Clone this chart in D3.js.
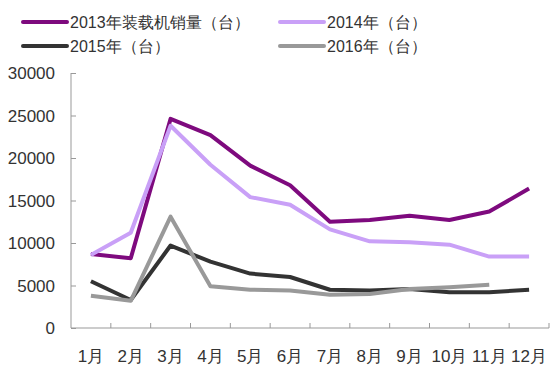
<!DOCTYPE html>
<html><head><meta charset="utf-8">
<script src="https://cdn.jsdelivr.net/npm/d3@7"></script>
<style>body{margin:0;background:#fff}svg{display:block}text{font-family:"Liberation Sans",Arial,sans-serif;fill:#333}</style>
</head><body><svg id="c" width="557" height="380"></svg>
<script>
const months = ["1月","2月","3月","4月","5月","6月","7月","8月","9月","10月","11月","12月"];
const yTicks = [0,5000,10000,15000,20000,25000,30000];
const seriesNames = ["2013年装载机销量（台）","2014年（台）","2015年（台）","2016年（台）"];
const seriesColors = ["#7e0a7e","#c9a0f7","#333333","#999999"];
const v2013 = [8700,8200,24600,22700,19100,16800,12500,12700,13200,12700,13700,16400];
const v2014 = [8600,11200,23800,19200,15400,14500,11600,10200,10100,9800,8400,8400];
const v2015 = [5500,3300,9700,7800,6400,6000,4500,4400,4600,4200,4200,4500];
const v2016 = [3800,3200,13100,4900,4500,4400,3900,4000,4600,4800,5100];
const seriesValues = [v2013,v2014,v2015,v2016];

const svg = d3.select("#c");
const x = d3.scaleBand().domain(months).range([71,549]);
const y = d3.scaleLinear().domain([0,30000]).range([328,73]);

// y axis
const ya = svg.append("g").attr("transform","translate(71,0)")
  .call(d3.axisLeft(y).tickValues(yTicks).tickSize(-5).tickPadding(16).tickFormat(d3.format("d")));
ya.select(".domain").attr("stroke","#999").attr("d","M0,73V328");
ya.selectAll(".tick line").attr("stroke","#999");
ya.selectAll(".tick text").attr("font-size",17).style("fill","#333").attr("dy","0.35em");

// x axis
const xa = svg.append("g").attr("transform","translate(0,328)");
xa.append("line").attr("x1",71).attr("x2",549).attr("stroke","#999");
const bounds = months.map(m=>x(m)).concat([x.range()[1]]);
xa.selectAll(".xt").data(bounds.slice(1)).join("line")
  .attr("x1",d=>d).attr("x2",d=>d).attr("y1",0).attr("y2",-5).attr("stroke","#999");
xa.selectAll(".xl").data(months).join("text")
  .attr("x",d=>x(d)+x.bandwidth()/2).attr("y",34).attr("text-anchor","middle")
  .attr("font-size",17).text(d=>d);

// lines
const line = d3.line().x((d,i)=>x(months[i])+x.bandwidth()/2).y(d=>y(d));
seriesValues.forEach((vals,k)=>{
  svg.append("path").datum(vals).attr("d",line).attr("fill","none")
    .attr("stroke",seriesColors[k]).attr("stroke-width",4).attr("stroke-linejoin","round");
});

// legend
const legPos = [[23,22],[280,22],[23,46],[280,46]];
seriesNames.forEach((n,k)=>{
  const [lx,ly] = legPos[k];
  svg.append("line").attr("x1",lx).attr("x2",lx+44).attr("y1",ly).attr("y2",ly)
    .attr("stroke",seriesColors[k]).attr("stroke-width",4).attr("stroke-linecap","round");
  svg.append("text").attr("x",lx+47).attr("y",ly).attr("dy","0.35em")
    .attr("font-size",16).text(n);
});
</script></body></html>
